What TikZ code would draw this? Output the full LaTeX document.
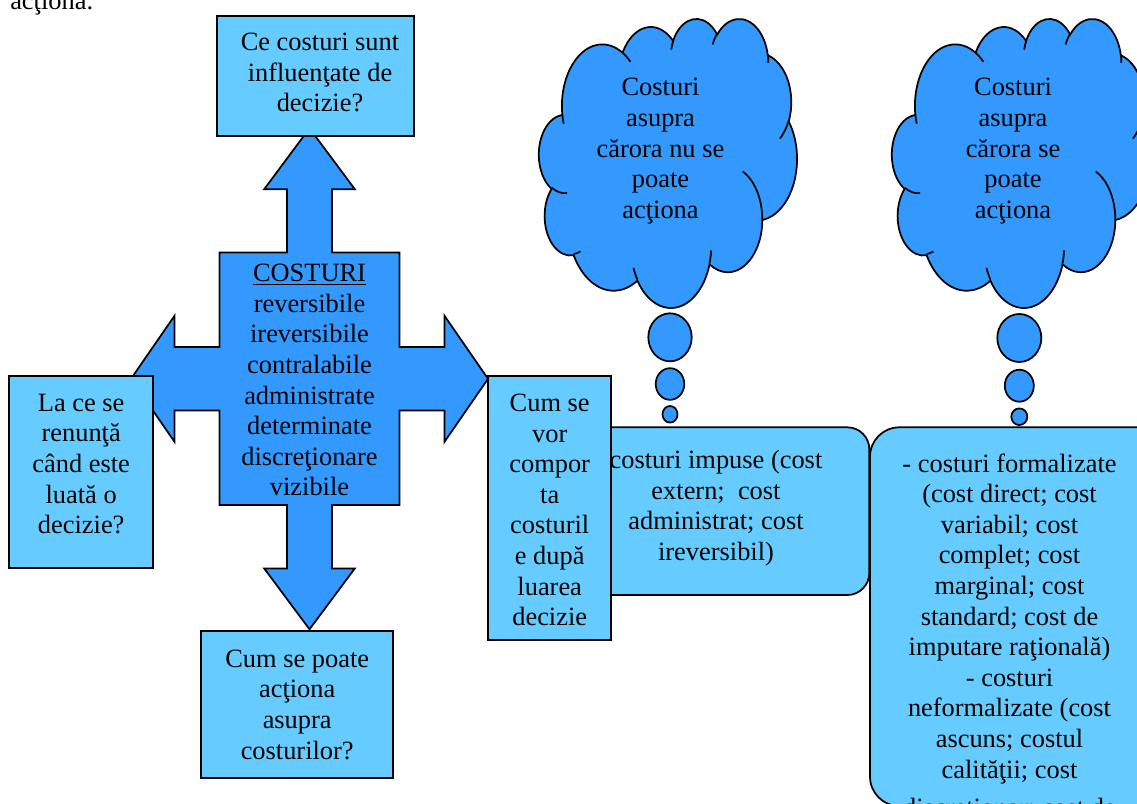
\documentclass[tikz,border=0pt]{standalone}
\usepackage{fontspec}
\setmainfont{Liberation Serif}
\usetikzlibrary{fit}

\definecolor{deepsky}{RGB}{51,153,255}
\definecolor{palesky}{RGB}{102,204,255}

\newcommand\bodyfont{\fontsize{19.8pt}{22.95pt}\selectfont}

% visual angle on an ellipse -> parametric angle
\pgfmathdeclarefunction{vispar}{3}{%
  \pgfmathparse{atan2((#2)*sin(#1),(#3)*cos(#1))}%
  \let\vpT\pgfmathresult
  \pgfmathparse{(#1)+atan2(sin(\vpT-(#1)),cos(\vpT-(#1)))}%
}

% one arc of the cloud outline: name, x radius, y radius, start, sweep
\newcommand\cloudarc[5]{%
  \pgfmathsetmacro\arcS{vispar(#4,#2,#3)}%
  \pgfmathsetmacro\arcE{vispar(#4+#5,#2,#3)}%
  \edef\arcdo{\noexpand\tikzset{#1/.style={x radius=#2,y radius=#3,start angle=\arcS,end angle=\arcE}}}%
  \arcdo}

% outer outline
\cloudarc{ca1}{675.3}{919.0}{-190.4875}{123.7805}
\cloudarc{ca2}{533.3}{726.7}{-144.1024}{89.9452}
\cloudarc{ca3}{436.5}{594.5}{-145.8079}{99.7230}
\cloudarc{ca4}{485.7}{659.5}{-130.9861}{117.2417}
\cloudarc{ca5}{533.3}{727.3}{-78.7089}{109.0269}
\cloudarc{ca6}{677.5}{922.0}{-46.2673}{130.2690}
\cloudarc{ca7}{578.5}{786.7}{0.6250}{114.0333}
\cloudarc{ca8}{675.2}{921.5}{22.4516}{115.1726}
\cloudarc{ca9}{772.0}{1054.3}{66.2426}{75.7110}
\cloudarc{ca10}{436.0}{591.8}{-274.9421}{146.7356}
\cloudarc{ca11}{434.5}{594.5}{-246.8285}{152.5189}
% inner strokes
\cloudarc{ci1}{434.5}{594.5}{86.7420}{26.4295}
\cloudarc{ci2}{436.0}{591.8}{73.6105}{11.4475}
\cloudarc{ci3}{675.2}{921.5}{137.6242}{14.0811}
\cloudarc{ci4}{675.2}{921.5}{6.4533}{15.9984}
\cloudarc{ci5}{578.5}{786.7}{-70.2924}{70.9174}
\cloudarc{ci6}{533.3}{727.3}{30.3180}{27.7515}
\cloudarc{ci7}{485.7}{659.5}{-13.7443}{14.8589}
\cloudarc{ci8}{485.7}{659.5}{-149.1815}{18.1954}
\cloudarc{ci9}{436.5}{594.5}{-163.4943}{17.6864}
\cloudarc{ci10}{675.3}{919.0}{-66.7070}{12.3194}
\cloudarc{ci11}{675.3}{919.0}{157.6544}{11.8582}

\tikzset{
  darkshape/.style={fill=deepsky, draw=black, line width=1.3pt, line join=miter},
  lightbox/.style={fill=palesky, draw=black, line width=1.3pt, inner sep=0pt},
  roundbox/.style={lightbox, rounded corners=#1},
  txt/.style={font=\bodyfont, align=center, inner sep=0pt, yshift=-3pt,
    execute at begin node=\strut, execute at end node=\strut},
}

% cloud in a 4320 x 4320 frame
\newcommand\cloudbody{%
  \filldraw[darkshape] (390,1437) arc[ca1] arc[ca2] arc[ca3] arc[ca4] arc[ca5]
    arc[ca6] arc[ca7] arc[ca8] arc[ca9] arc[ca10] arc[ca11] -- cycle;
  \draw[line width=1.3pt] (469.3,2617.7) arc[ci1] (692.8,3489.9) arc[ci2]
    (1647.8,3909.0) arc[ci3] (2882.7,3475.1) arc[ci4] (3412.9,2295.4) arc[ci5]
    (4179.8,1535.4) arc[ci6] (3832.4,542.6) arc[ci7] (2907.8,395.2) arc[ci8]
    (2214.1,472.0) arc[ci9] (1400.0,519.2) arc[ci10] (412.7,1578.9) arc[ci11];
}

\begin{document}
\begin{tikzpicture}[x=0.75pt, y=-0.75pt]
\useasboundingbox (0,0) rectangle (1137,803);
\clip (0,0) rectangle (1137,803);

% line of running text above
\node[font=\bodyfont, inner sep=0pt, anchor=base west] (prev) at (10,9.5) {acţiona.};

% four-way arrow
\filldraw[darkshape] (309.5,128.3) -- (354.8,189.2) -- (332,189.2) -- (332,252.6)
  -- (399.5,252.6) -- (399.5,347) -- (444.5,347) -- (444.5,315.8) -- (488,378.8)
  -- (444.5,441.8) -- (444.5,410.6) -- (399.5,410.6) -- (399.5,505) -- (332,505)
  -- (332,568.4) -- (354.8,568.4) -- (309.5,629.3) -- (264.2,568.4) -- (287,568.4)
  -- (287,505) -- (219.5,505) -- (219.5,410.6) -- (174.5,410.6) -- (174.5,441.8)
  -- (131,378.8) -- (174.5,315.8) -- (174.5,347) -- (219.5,347) -- (219.5,252.6)
  -- (287,252.6) -- (287,189.2) -- (264.2,189.2) -- cycle;

% question boxes
\node[lightbox, fit={(217,16)(414,136)}] (qtop) {};
\node[lightbox, fit={(9,375.7)(153.3,568)}] (qleft) {};
\node[lightbox, fit={(201,630.7)(393.3,777.7)}] (qbottom) {};
\node[roundbox=16.5pt, fit={(560,427.3)(869.3,595)}] (imposed) {};
\node[lightbox, fit={(488.3,375.7)(611,640)}] (qright) {};
\node[roundbox=22pt, fit={(870,427.3)(1165,806)}] (formal) {};

% thought clouds
\begin{scope}[shift={(539,18)}, x=0.044792pt, y=-0.050174pt]
  \cloudbody
\end{scope}
\begin{scope}[shift={(892,18)}, x=0.044792pt, y=-0.050174pt]
  \cloudbody
\end{scope}
\filldraw[darkshape] (670,337.3) ellipse[x radius=21.7, y radius=24];
\filldraw[darkshape] (670,384) ellipse[x radius=14.3, y radius=15.8];
\filldraw[darkshape] (670,414.3) ellipse[x radius=7.5, y radius=8.3];
\filldraw[darkshape] (1019.3,338) ellipse[x radius=22, y radius=24];
\filldraw[darkshape] (1019.3,385.7) ellipse[x radius=14.5, y radius=16];
\filldraw[darkshape] (1019.3,416.7) ellipse[x radius=8, y radius=8.3];

% texts
\node[txt] (qtopT) at (320,73) {Ce costuri sunt\\influenţate de\\decizie?};
\node[txt] (core) at (309.5,380.7) {\underline{COSTURI}\\reversibile\\ireversibile\\contralabile\\administrate\\determinate\\discreţionare\\vizibile};
\node[txt] (qleftT) at (81.2,464.5) {La ce se\\renunţă\\când este\\luată o\\decizie?};
\node[txt] (qbottomT) at (297.2,705) {Cum se poate\\acţiona\\asupra\\costurilor?};
\node[txt] (qrightT) at (549.7,510.5) {Cum se\\vor\\compor\\ta\\costuril\\e după\\luarea\\decizie};
\node[txt] (imposedT) at (716,506) {costuri impuse (cost\\extern;~ cost\\administrat; cost\\ireversibil)};
\node[txt] (formalT) at (1009.5,635.75) {- costuri formalizate\\(cost direct; cost\\variabil; cost\\complet; cost\\marginal; cost\\standard; cost de\\imputare raţională)\\- costuri\\neformalizate (cost\\ascuns; costul\\calităţii; cost\\[6pt]discreţionar; cost de};
\node[txt] (cloudAT) at (660.5,149) {Costuri\\asupra\\cărora nu se\\poate\\acţiona};
\node[txt] (cloudBT) at (1013,149) {Costuri\\asupra\\cărora se\\poate\\acţiona};
\end{tikzpicture}
\end{document}
